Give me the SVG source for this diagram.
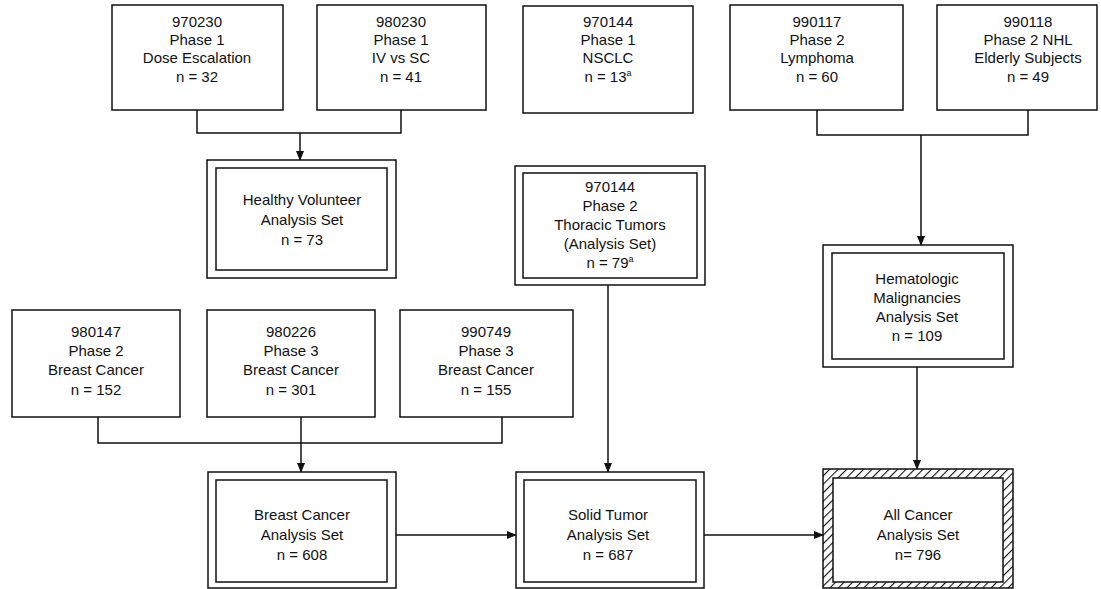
<svg xmlns="http://www.w3.org/2000/svg" width="1101" height="589" viewBox="0 0 1101 589">
<style>
.box{fill:#fff;stroke:#111;stroke-width:1.5}
.in{fill:none;stroke:#111;stroke-width:1.5}
.t{font-family:"Liberation Sans",Arial,sans-serif;font-size:15px;fill:#111;text-anchor:middle}
.c{fill:none;stroke:#111;stroke-width:1.5}
.sup{font-size:9px}
</style>
<defs>
<marker id="ah" markerWidth="10" markerHeight="10" refX="9" refY="5" orient="auto" markerUnits="userSpaceOnUse">
<path d="M0,1 L10,5 L0,9 Z" fill="#111"/>
</marker>
<pattern id="hatch" width="6" height="6" patternUnits="userSpaceOnUse" patternTransform="rotate(45)">
<rect width="6" height="6" fill="#fff"/>
<line x1="0" y1="0" x2="0" y2="6" stroke="#111" stroke-width="2.2"/>
</pattern>
</defs>
<rect width="1101" height="589" fill="#fff"/>

<g id="connectors">
<path class="c" d="M197,110 V133 H401 V110"/>
<path class="c" d="M300,133 V160" marker-end="url(#ah)"/>
<path class="c" d="M817,110 V135 H1028 V110"/>
<path class="c" d="M921,135 V245" marker-end="url(#ah)"/>
<path class="c" d="M98,417 V443 H502 V417"/>
<path class="c" d="M301,417 V472" marker-end="url(#ah)"/>
<path class="c" d="M608,285 V472" marker-end="url(#ah)"/>
<path class="c" d="M917,367 V469" marker-end="url(#ah)"/>
<path class="c" d="M396,535 H516" marker-end="url(#ah)"/>
<path class="c" d="M704,535 H823" marker-end="url(#ah)"/>
</g>

<g id="n970230">
<rect class="box" x="112" y="5" width="171" height="105"/>
<text class="t" x="197" y="27">970230</text>
<text class="t" x="197" y="45">Phase 1</text>
<text class="t" x="197" y="63">Dose Escalation</text>
<text class="t" x="197" y="82">n = 32</text>
</g>
<g id="n980230">
<rect class="box" x="317" y="5" width="169" height="105"/>
<text class="t" x="401" y="27">980230</text>
<text class="t" x="401" y="45">Phase 1</text>
<text class="t" x="401" y="63">IV vs SC</text>
<text class="t" x="401" y="82">n = 41</text>
</g>
<g id="n970144p1">
<rect class="box" x="523" y="6" width="170" height="107"/>
<text class="t" x="608" y="27">970144</text>
<text class="t" x="608" y="45">Phase 1</text>
<text class="t" x="608" y="63">NSCLC</text>
<text class="t" x="608" y="82">n = 13<tspan class="sup" dy="-6">a</tspan></text>
</g>
<g id="n990117">
<rect class="box" x="730" y="5" width="173" height="105"/>
<text class="t" x="817" y="27">990117</text>
<text class="t" x="817" y="45">Phase 2</text>
<text class="t" x="817" y="63">Lymphoma</text>
<text class="t" x="817" y="82">n = 60</text>
</g>
<g id="n990118">
<rect class="box" x="937" y="5" width="160" height="105"/>
<text class="t" x="1028" y="27">990118</text>
<text class="t" x="1028" y="45">Phase 2 NHL</text>
<text class="t" x="1028" y="63">Elderly Subjects</text>
<text class="t" x="1028" y="82">n = 49</text>
</g>

<g id="healthy">
<rect class="box" x="207" y="160" width="189" height="118"/>
<rect class="in" x="216" y="168" width="171" height="102"/>
<text class="t" x="302" y="205">Healthy Volunteer</text>
<text class="t" x="302" y="225">Analysis Set</text>
<text class="t" x="302" y="245">n = 73</text>
</g>
<g id="thoracic">
<rect class="box" x="515" y="166" width="190" height="119"/>
<rect class="in" x="523" y="173" width="174" height="105"/>
<text class="t" x="610" y="192">970144</text>
<text class="t" x="610" y="211">Phase 2</text>
<text class="t" x="610" y="230">Thoracic Tumors</text>
<text class="t" x="610" y="249">(Analysis Set)</text>
<text class="t" x="610" y="268">n = 79<tspan class="sup" dy="-6">a</tspan></text>
</g>
<g id="hemato">
<rect class="box" x="823" y="245" width="190" height="122"/>
<rect class="in" x="832" y="253" width="172" height="106"/>
<text class="t" x="917" y="284">Hematologic</text>
<text class="t" x="917" y="303">Malignancies</text>
<text class="t" x="917" y="322">Analysis Set</text>
<text class="t" x="917" y="341">n = 109</text>
</g>

<g id="n980147">
<rect class="box" x="12" y="310" width="168" height="107"/>
<text class="t" x="96" y="337">980147</text>
<text class="t" x="96" y="356">Phase 2</text>
<text class="t" x="96" y="375">Breast Cancer</text>
<text class="t" x="96" y="395">n = 152</text>
</g>
<g id="n980226">
<rect class="box" x="207" y="310" width="168" height="107"/>
<text class="t" x="291" y="337">980226</text>
<text class="t" x="291" y="356">Phase 3</text>
<text class="t" x="291" y="375">Breast Cancer</text>
<text class="t" x="291" y="395">n = 301</text>
</g>
<g id="n990749">
<rect class="box" x="400" y="310" width="173" height="107"/>
<text class="t" x="486" y="337">990749</text>
<text class="t" x="486" y="356">Phase 3</text>
<text class="t" x="486" y="375">Breast Cancer</text>
<text class="t" x="486" y="395">n = 155</text>
</g>

<g id="breast">
<rect class="box" x="208" y="472" width="188" height="116"/>
<rect class="in" x="216" y="480" width="171" height="102"/>
<text class="t" x="302" y="520">Breast Cancer</text>
<text class="t" x="302" y="540">Analysis Set</text>
<text class="t" x="302" y="560">n = 608</text>
</g>
<g id="solid">
<rect class="box" x="516" y="472" width="188" height="116"/>
<rect class="in" x="524" y="480" width="172" height="102"/>
<text class="t" x="608" y="520">Solid Tumor</text>
<text class="t" x="608" y="540">Analysis Set</text>
<text class="t" x="608" y="560">n = 687</text>
</g>
<g id="allcancer">
<rect x="823" y="469" width="190" height="119" fill="url(#hatch)" stroke="#111" stroke-width="1.5"/>
<rect x="833" y="478" width="170" height="104" fill="#fff" stroke="#111" stroke-width="1.5"/>
<text class="t" x="918" y="520">All Cancer</text>
<text class="t" x="918" y="540">Analysis Set</text>
<text class="t" x="918" y="560">n= 796</text>
</g>
</svg>
